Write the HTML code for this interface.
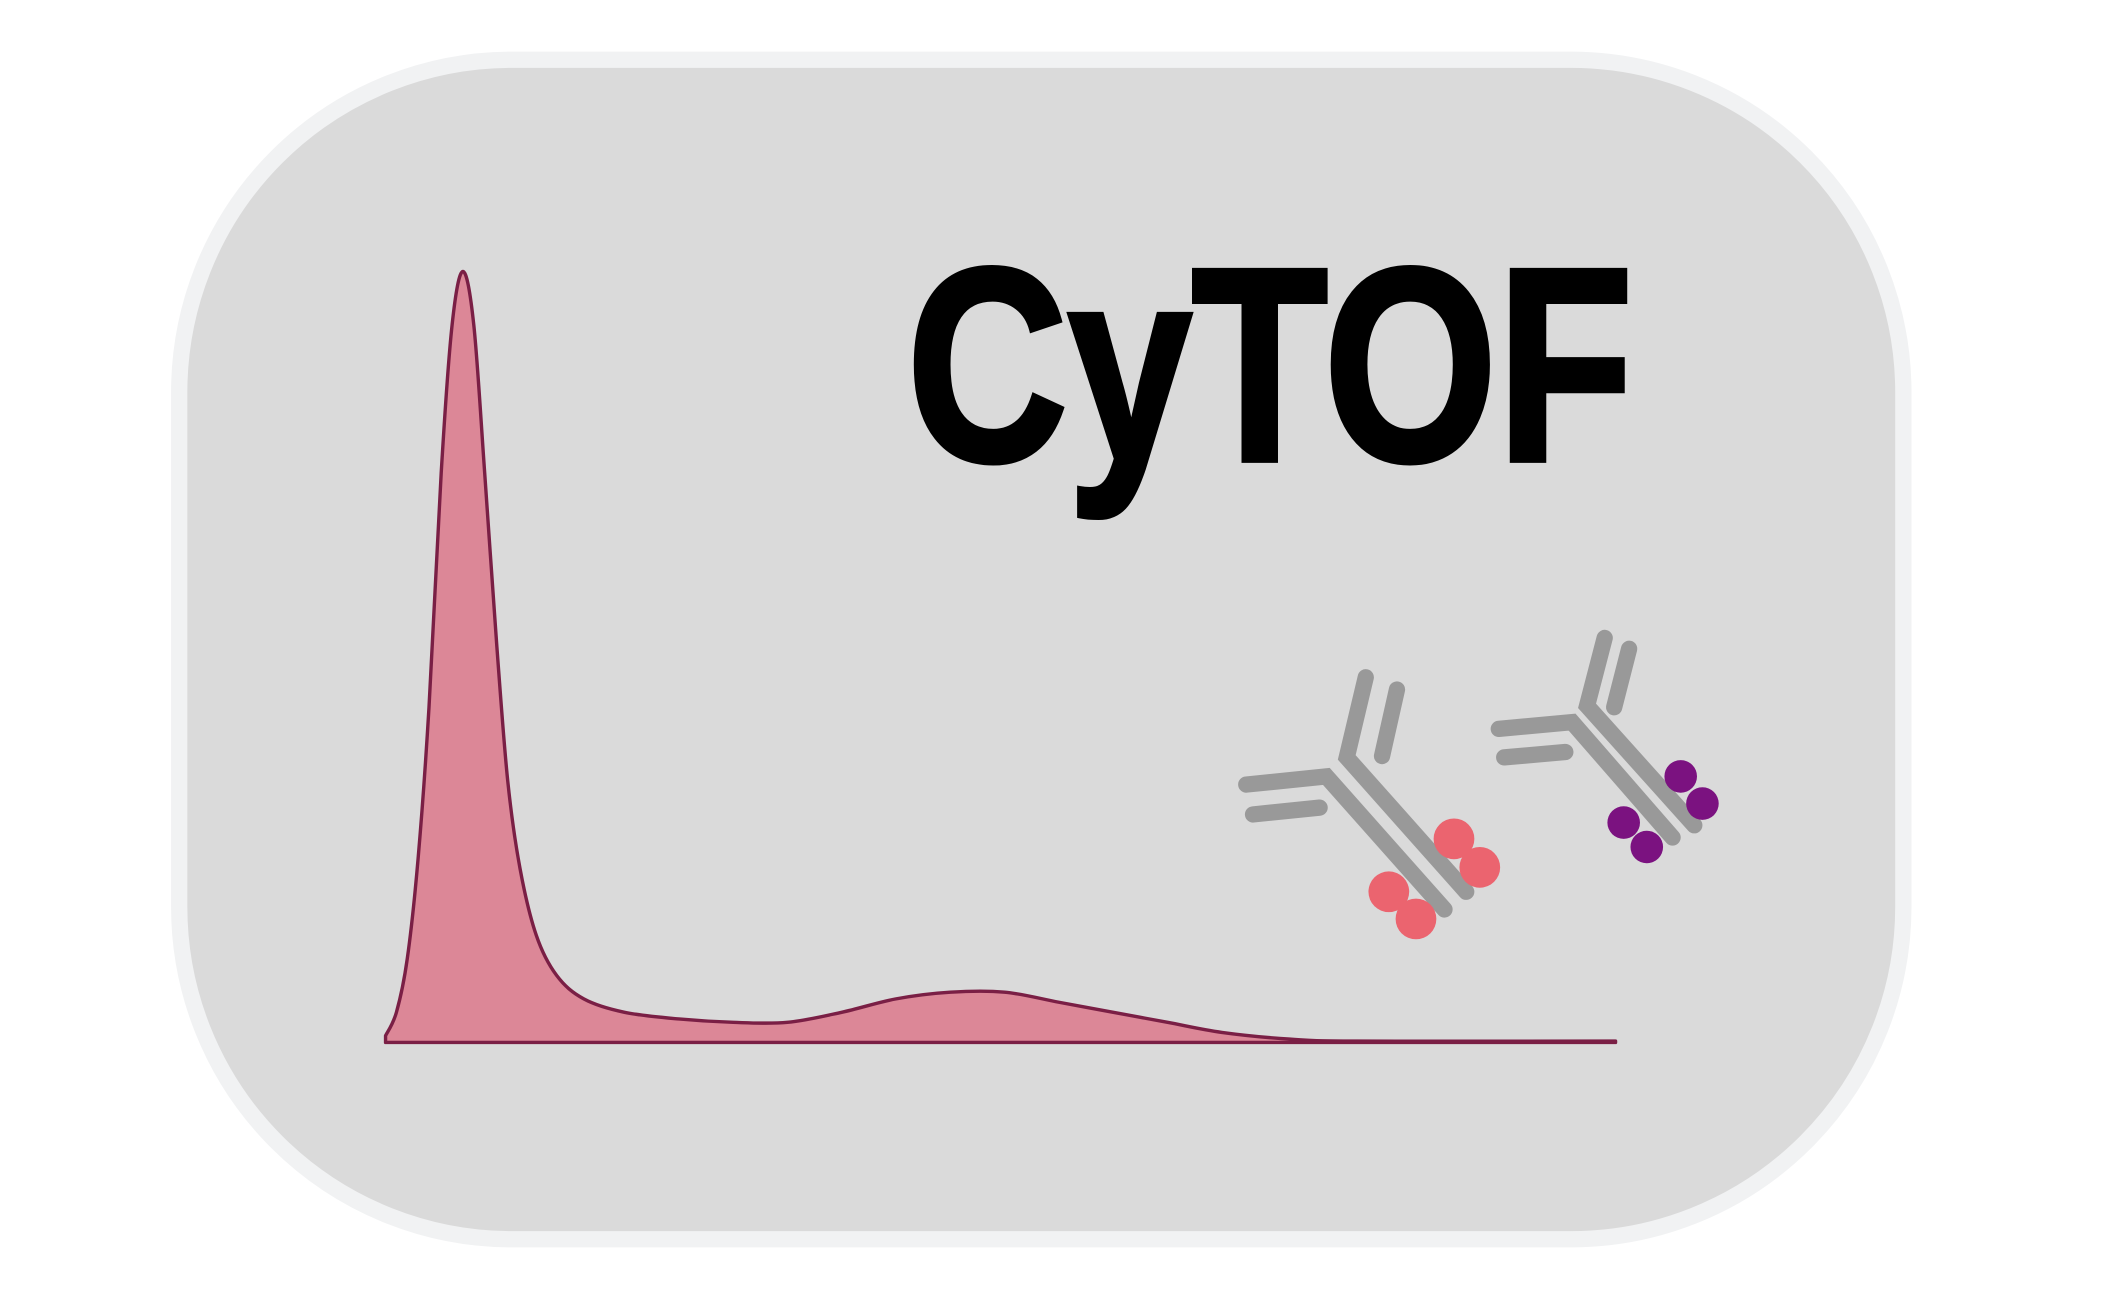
<!DOCTYPE html>
<html><head><meta charset="utf-8"><style>
html,body{margin:0;padding:0;background:#fff;width:2126px;height:1299px;overflow:hidden}
svg{display:block}
</style></head><body>
<svg id="chart" width="2126" height="1299" viewBox="0 0 1566 957" preserveAspectRatio="none" xmlns="http://www.w3.org/2000/svg">
<rect x="132" y="44" width="1270" height="869" rx="245" ry="245" fill="#dadada" stroke="#f1f2f3" stroke-width="12"/>
<g id="hist"></g>
<text x="668" y="339" font-family="'Liberation Sans', sans-serif" font-weight="bold" font-size="203" textLength="535" lengthAdjust="spacingAndGlyphs" fill="#000" stroke="#000" stroke-width="4">CyTOF</text>
<g>
<g fill="none" stroke="#999" stroke-width="12" stroke-linecap="round">
<polyline points="918,578 977,572 1064,670"/>
<line x1="923" y1="600" x2="972" y2="595"/>
<polyline points="1006,499 992,558 1080,657"/>
<line x1="1029" y1="508" x2="1018" y2="557"/>
</g>
<g fill="#eb646f">
<circle cx="1023" cy="657" r="15"/><circle cx="1043" cy="677" r="15"/>
<circle cx="1071" cy="618" r="15"/><circle cx="1090" cy="639" r="15"/>
</g>
<g fill="none" stroke="#999" stroke-width="12" stroke-linecap="round">
<polyline points="1104,537 1158,532 1232,617"/>
<line x1="1108" y1="558" x2="1153" y2="554"/>
<polyline points="1182,470 1169,520 1248,608"/>
<line x1="1200" y1="478" x2="1189" y2="521"/>
</g>
<g fill="#7b1280">
<circle cx="1238" cy="572" r="12"/><circle cx="1254" cy="592" r="12"/>
<circle cx="1196" cy="606" r="12"/><circle cx="1213" cy="624" r="12"/>
</g>
</g>
</svg>
<script>
var xs=[0,8,16,24,32,41,49,57,65,73,82,90,99,111,126,146,176,216,256,296,336,376,416,456,496,536,576,616,666,716,906];
var density=[2,9,25,55,100,170,214,230,214,170,118,78,52,32,20,13,9,7,6,6,9,13,15,15,12,9,6,3,1,0.4,0.4];
var X0=284,Y0=768,YS=568/230;
function sx(v){return X0+v;}
function sy(v){return Y0-v*YS;}
var g=document.getElementById('hist');
var d='M'+sx(xs[0])+','+sy(density[0]);
var n=xs.length;
for(var i=0;i<n-1;i++){
  var a=Math.max(0,i-1),b=Math.min(n-1,i+2);
  var p0=[sx(xs[a]),sy(density[a])],p1=[sx(xs[i]),sy(density[i])],p2=[sx(xs[i+1]),sy(density[i+1])],p3=[sx(xs[b]),sy(density[b])];
  var c1x=p1[0]+(p2[0]-p0[0])/6,c1y=p1[1]+(p2[1]-p0[1])/6,c2x=p2[0]-(p3[0]-p1[0])/6,c2y=p2[1]-(p3[1]-p1[1])/6;
  d+=' C'+c1x+','+c1y+' '+c2x+','+c2y+' '+p2[0]+','+p2[1];
}
var area=document.createElementNS('http://www.w3.org/2000/svg','path');


area.setAttribute('d',d+' L'+sx(xs[n-1])+','+Y0+' L'+X0+','+Y0+' Z');
area.setAttribute('fill','#dc8797');
area.setAttribute('stroke','#7a1f45');
area.setAttribute('stroke-width','2.5');
area.setAttribute('stroke-linejoin','round');
g.appendChild(area);
</script>
</body></html>
